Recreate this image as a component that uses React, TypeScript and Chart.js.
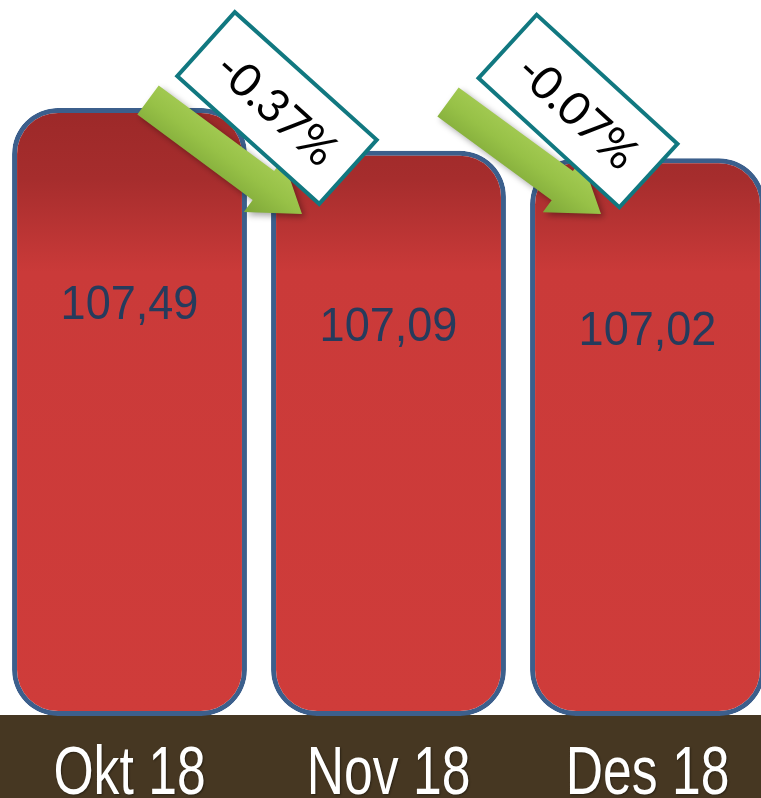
import React, { useEffect, useRef } from "react";
import { Chart, registerables } from "chart.js";

Chart.register(...registerables);

// ---- data ----
const categories = ["Okt 18", "Nov 18", "Des 18"];
const values = [107.49, 107.09, 107.02];
const valueLabels = ["107,49", "107,09", "107,02"];
const yMin = 101.8;
const yMax = 108.5;

// ---- decoration layout (not data) ----
const changeBoxes = [
  { cx: 277, cy: 108, angle: 42 },
  { cx: 578, cy: 111, angle: 42.5 },
];
const arrows = [
  { tx: 148, ty: 100, px: 302, py: 214 },
  { tx: 448, ty: 102, px: 601, py: 214 },
];

const CANVAS_W = 777;
const CANVAS_H = 798;
const STRIP_H = 82;

function pctChange(i: number): string {
  const p = ((values[i] - values[i - 1]) / values[i - 1]) * 100;
  return p.toFixed(2) + "%";
}

function drawArrow(ctx: CanvasRenderingContext2D, tx: number, ty: number, px: number, py: number) {
  const ang = Math.atan2(py - ty, px - tx);
  const len = Math.hypot(px - tx, py - ty);
  const sw = 18, hw = 33, hl = 48;
  ctx.save();
  ctx.translate(tx, ty);
  ctx.rotate(ang);
  ctx.beginPath();
  ctx.moveTo(0, -sw);
  ctx.lineTo(len - hl, -sw);
  ctx.lineTo(len - hl, -hw);
  ctx.lineTo(len, 0);
  ctx.lineTo(len - hl, hw);
  ctx.lineTo(len - hl, sw);
  ctx.lineTo(0, sw);
  ctx.closePath();
  const g = ctx.createLinearGradient(0, -hw, 0, hw);
  g.addColorStop(0, "#a9cf58");
  g.addColorStop(0.5, "#97c147");
  g.addColorStop(1, "#7da637");
  ctx.shadowColor = "rgba(0,0,0,0.35)";
  ctx.shadowBlur = 6;
  ctx.shadowOffsetX = 3;
  ctx.shadowOffsetY = 3;
  ctx.fillStyle = g;
  ctx.fill();
  ctx.restore();
}

const decorPlugin = {
  id: "decor",
  beforeDatasetsDraw(chart: any) {
    const ctx: CanvasRenderingContext2D = chart.ctx;
    const area = chart.chartArea;
    const xs = chart.scales.x;
    ctx.save();
    ctx.fillStyle = "#463722";
    ctx.fillRect(0, area.bottom - 1, chart.width, chart.height - area.bottom + 1);
    ctx.fillStyle = "#ffffff";
    ctx.font = "68px 'Liberation Sans', Arial, sans-serif";
    ctx.textAlign = "center";
    ctx.textBaseline = "alphabetic";
    ctx.shadowColor = "rgba(0,0,0,0.4)";
    ctx.shadowBlur = 2;
    ctx.shadowOffsetX = 1;
    ctx.shadowOffsetY = 1;
    categories.forEach((c, i) => {
      const x = xs.getPixelForValue(i);
      ctx.save();
      ctx.translate(x, chart.height - 4);
      ctx.scale(0.76, 1);
      ctx.fillText(c, 0, 0);
      ctx.restore();
    });
    ctx.restore();
  },
  afterDatasetsDraw(chart: any) {
    const ctx: CanvasRenderingContext2D = chart.ctx;
    const xs = chart.scales.x;
    const ys = chart.scales.y;
    const base = ys.getPixelForValue(yMin);
    ctx.save();
    ctx.fillStyle = "#263b5c";
    ctx.font = "49px 'Liberation Sans', Arial, sans-serif";
    ctx.textAlign = "center";
    ctx.textBaseline = "middle";
    values.forEach((v, i) => {
      const top = ys.getPixelForValue(v);
      const x = xs.getPixelForValue(i);
      const y = (top + base) / 2 - 106;
      ctx.save();
      ctx.translate(x, y);
      ctx.scale(0.92, 1);
      ctx.fillText(valueLabels[i], 0, 0);
      ctx.restore();
    });
    ctx.restore();

    arrows.forEach((a) => drawArrow(ctx, a.tx, a.ty, a.px, a.py));

    changeBoxes.forEach((b, k) => {
      const w = 191, h = 86;
      ctx.save();
      ctx.translate(b.cx, b.cy);
      ctx.rotate((b.angle * Math.PI) / 180);
      ctx.fillStyle = "#ffffff";
      ctx.fillRect(-w / 2, -h / 2, w, h);
      ctx.strokeStyle = "#117880";
      ctx.lineWidth = 4;
      ctx.strokeRect(-w / 2, -h / 2, w, h);
      ctx.fillStyle = "#000000";
      ctx.font = "46px Lato, 'Open Sans', sans-serif";
      ctx.textAlign = "center";
      ctx.textBaseline = "middle";
      ctx.fillText(pctChange(k + 1), 0, 2);
      ctx.restore();
    });
  },
};

export default function App() {
  const ref = useRef<HTMLCanvasElement | null>(null);
  useEffect(() => {
    document.body.style.margin = "0";
    const canvas = ref.current!;
    const chart = new Chart(canvas, {
      type: "bar",
      data: {
        labels: categories,
        datasets: [
          {
            data: values,
            base: yMin,
            backgroundColor: (c: any) => {
              const area = c.chart.chartArea;
              if (!area) return "#cc3b39";
              const g = c.chart.ctx.createLinearGradient(0, area.top, 0, area.bottom);
              g.addColorStop(0, "#952627");
              g.addColorStop(0.16, "#9d2929");
              g.addColorStop(0.25, "#a62d2d");
              g.addColorStop(0.38, "#ca3a39");
              g.addColorStop(1, "#cf3c3a");
              return g;
            },
            borderColor: "#3c5f8c",
            borderWidth: 5,
            borderRadius: { topLeft: 46, topRight: 46, bottomLeft: 46, bottomRight: 46 },
            borderSkipped: false,
            categoryPercentage: 1,
            barPercentage: 0.907,
          } as any,
        ],
      },
      options: {
        responsive: false,
        animation: false,
        devicePixelRatio: 1,
        layout: { padding: { left: 0, right: 0, top: 0, bottom: STRIP_H } },
        plugins: { legend: { display: false }, tooltip: { enabled: false } },
        scales: {
          x: { display: false, offset: true },
          y: { display: false, min: yMin, max: yMax },
        },
      },
      plugins: [decorPlugin],
    });
    return () => chart.destroy();
  }, []);
  return (
    <div style={{ width: 761, height: 798, overflow: "hidden", position: "relative", background: "#ffffff" }}>
      <canvas ref={ref} width={CANVAS_W} height={CANVAS_H} style={{ width: CANVAS_W, height: CANVAS_H, display: "block" }} />
    </div>
  );
}
